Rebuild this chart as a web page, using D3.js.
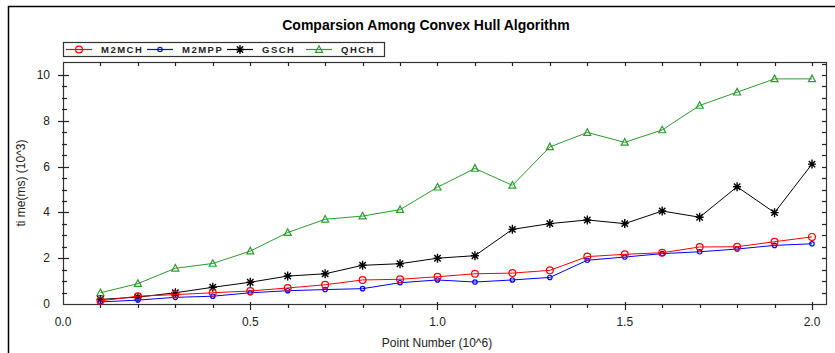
<!DOCTYPE html>
<head>
  <meta charset="utf-8">
  <title>Comparsion Among Convex Hull Algorithm</title>
  <script src="https://cdn.jsdelivr.net/npm/d3@7"></script>
  <style>
    body { margin: 0; background: #fff; }
    text { font-family: "Liberation Sans", Arial, sans-serif; }
  </style>
</head>
<body>
<script>
  var WIDTH = 835, HEIGHT = 353;

  // point number (10^6)
  var points = [0.1, 0.2, 0.3, 0.4, 0.5, 0.6, 0.7, 0.8, 0.9, 1.0,
                1.1, 1.2, 1.3, 1.4, 1.5, 1.6, 1.7, 1.8, 1.9, 2.0];
  // time (10^3 ms)
  var m2mch = [0.14, 0.34, 0.41, 0.49, 0.57, 0.70, 0.84, 1.05, 1.08, 1.19,
               1.32, 1.35, 1.47, 2.07, 2.17, 2.24, 2.49, 2.50, 2.72, 2.93];
  var m2mpp = [0.09, 0.17, 0.29, 0.34, 0.49, 0.58, 0.63, 0.67, 0.93, 1.05,
               0.96, 1.05, 1.16, 1.91, 2.05, 2.20, 2.28, 2.40, 2.56, 2.63];
  var gsch  = [0.20, 0.30, 0.49, 0.73, 0.95, 1.22, 1.32, 1.69, 1.76, 2.00,
               2.11, 3.26, 3.51, 3.67, 3.51, 4.06, 3.79, 5.12, 3.99, 6.11];
  var qhch  = [0.49, 0.89, 1.56, 1.77, 2.31, 3.12, 3.70, 3.84, 4.12, 5.10,
               5.92, 5.18, 6.86, 7.49, 7.06, 7.60, 8.67, 9.25, 9.83, 9.83];

  var xTicks = [0, 0.5, 1.0, 1.5, 2.0];
  var yTicks = [0, 2, 4, 6, 8, 10];

  var series = [
    {name: "M2MCH", values: m2mch, color: "#ff0000", marker: "circle"},
    {name: "M2MPP", values: m2mpp, color: "#0000ff", marker: "dot"},
    {name: "GSCH",  values: gsch,  color: "#000000", marker: "star"},
    {name: "QHCH",  values: qhch,  color: "#2f9a2f", marker: "triangle"}
  ];

  var plot = {left: 63, right: 826, top: 62, bottom: 304};

  var svg = d3.select("body").append("svg")
              .attr("width", WIDTH)
              .attr("height", HEIGHT);

  // outer frame (only top and left visible in the crop)
  svg.append("path")
     .attr("d", "M8.5," + HEIGHT + "V6.5H" + WIDTH)
     .attr("fill", "none").attr("stroke", "#000").attr("stroke-width", 1.5);

  var x = d3.scaleLinear().domain([0, 2.0374]).range([plot.left, plot.right]);
  var y = d3.scaleLinear().domain([0, 10.568]).range([plot.bottom, plot.top]);

  // title
  svg.append("text")
     .attr("x", 426).attr("y", 30)
     .attr("text-anchor", "middle")
     .attr("font-size", 14).attr("font-weight", "bold")
     .text("Comparsion Among Convex Hull Algorithm");

  // plot frame
  svg.append("rect")
     .attr("x", plot.left + 0.5).attr("y", plot.top + 0.5)
     .attr("width", plot.right - plot.left).attr("height", plot.bottom - plot.top)
     .attr("fill", "none").attr("stroke", "#333").attr("stroke-width", 1.2);

  var minorX = d3.range(0, 21).map(function(i){ return i / 10; });
  var minorY = d3.range(0, 22).map(function(i){ return i / 2; });

  var axes = svg.append("g").attr("stroke", "#222").attr("stroke-width", 1.2);

  // top ticks, inward
  axes.selectAll(".tt").data(minorX.slice(1)).enter().append("line")
      .attr("x1", function(d){ return Math.round(x(d)) + 0.5; })
      .attr("x2", function(d){ return Math.round(x(d)) + 0.5; })
      .attr("y1", plot.top).attr("y2", plot.top + 4);

  // bottom ticks
  axes.selectAll(".bt").data(minorX.slice(1)).enter().append("line")
      .attr("x1", function(d){ return Math.round(x(d)) + 0.5; })
      .attr("x2", function(d){ return Math.round(x(d)) + 0.5; })
      .attr("y1", function(d){ return Math.abs(d * 2 - Math.round(d * 2)) < 1e-6 ? plot.bottom - 2 : plot.bottom; })
      .attr("y2", function(d){ return Math.abs(d * 2 - Math.round(d * 2)) < 1e-6 ? plot.bottom + 6 : plot.bottom + 4; });

  // left ticks
  axes.selectAll(".lt").data(minorY.filter(function(d){ return d > 0 && d <= 10; })).enter().append("line")
      .attr("y1", function(d){ return Math.round(y(d)) + 0.5; })
      .attr("y2", function(d){ return Math.round(y(d)) + 0.5; })
      .attr("x1", function(d){ return d % 2 === 0 ? plot.left - 5 : plot.left - 1; })
      .attr("x2", function(d){ return d % 2 === 0 ? plot.left + 6 : plot.left + 4; });

  // right ticks, inward
  axes.selectAll(".rt").data(minorY.filter(function(d){ return d > 0; })).enter().append("line")
      .attr("y1", function(d){ return Math.round(y(d)) + 0.5; })
      .attr("y2", function(d){ return Math.round(y(d)) + 0.5; })
      .attr("x1", plot.right - 4).attr("x2", plot.right);

  // tick labels
  svg.selectAll(".xl").data(xTicks).enter().append("text")
     .attr("x", function(d){ return x(d); })
     .attr("y", 326)
     .attr("text-anchor", "middle").attr("font-size", 12).attr("fill", "#222")
     .text(function(d){ return d.toFixed(1); });

  svg.selectAll(".yl").data(yTicks).enter().append("text")
     .attr("x", 50)
     .attr("y", function(d){ return y(d) + 4; })
     .attr("text-anchor", "end").attr("font-size", 12).attr("fill", "#222")
     .text(function(d){ return d; });

  // axis titles
  svg.append("text")
     .attr("x", 437).attr("y", 347)
     .attr("text-anchor", "middle").attr("font-size", 12).attr("fill", "#222")
     .text("Point Number (10^6)");

  svg.append("text")
     .attr("transform", "translate(25,183) rotate(-90)")
     .attr("text-anchor", "middle").attr("font-size", 12).attr("fill", "#222")
     .text("ti me(ms) (10^3)");

  // markers
  function drawMarker(g, type, color) {
    if (type === "circle") {
      g.append("circle").attr("r", 3.4).attr("fill", "none")
       .attr("stroke", color).attr("stroke-width", 1.2);
    } else if (type === "dot") {
      g.append("circle").attr("r", 2.2).attr("fill", "none")
       .attr("stroke", color).attr("stroke-width", 1.2);
    } else if (type === "star") {
      g.append("path").attr("d", "M-4,0H4M0,-4.5V4.5M-3.2,-3.2L3.2,3.2M-3.2,3.2L3.2,-3.2")
       .attr("stroke", color).attr("stroke-width", 1.4);
    } else {
      g.append("path").attr("d", "M0,-3.8L3.5,2.8H-3.5Z").attr("fill", "none")
       .attr("stroke", color).attr("stroke-width", 1.2);
    }
  }

  var line = d3.line()
               .x(function(d){ return x(d[0]); })
               .y(function(d){ return y(d[1]); });

  // draw order: green, black, blue, red (red on top)
  [3, 2, 1, 0].forEach(function(i){
    var s = series[i];
    var data = points.map(function(p, j){ return [p, s.values[j]]; });
    svg.append("path").datum(data)
       .attr("d", line)
       .attr("fill", "none").attr("stroke", s.color).attr("stroke-width", 1);
    svg.selectAll(".m" + i).data(data).enter().append("g")
       .attr("transform", function(d){ return "translate(" + x(d[0]) + "," + y(d[1]) + ")"; })
       .each(function(){ drawMarker(d3.select(this), s.marker, s.color); });
  });

  // legend
  var legend = svg.append("g");
  legend.append("rect")
        .attr("x", 63.5).attr("y", 42.5).attr("width", 321).attr("height", 14)
        .attr("fill", "#fff").attr("stroke", "#333").attr("stroke-width", 1.2);

  var legendX = [66, 147, 227, 306];
  series.forEach(function(s, i){
    var g = legend.append("g").attr("transform", "translate(" + legendX[i] + ",49.5)");
    g.append("line").attr("x1", 0).attr("x2", 26)
     .attr("stroke", s.color).attr("stroke-width", 1.2);
    drawMarker(g.append("g").attr("transform", "translate(13,0)"), s.marker, s.color);
    g.append("text").attr("x", 35).attr("y", 3.5)
     .attr("font-size", 9.5).attr("font-weight", "bold")
     .attr("letter-spacing", 1.5).attr("fill", "#222")
     .text(s.name);
  });
</script>
</body>
